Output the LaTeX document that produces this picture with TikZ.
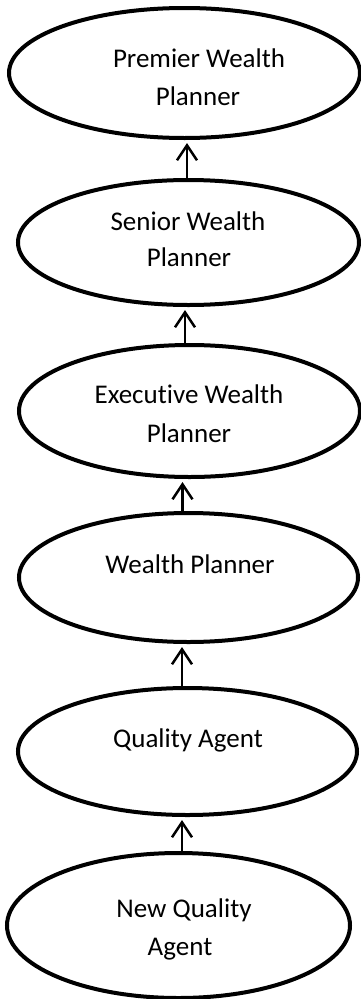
\documentclass[tikz,border=0pt]{standalone}
\usepackage{fontspec}
\setmainfont{Carlito}[Ligatures=NoCommon]
\usetikzlibrary{shapes.geometric,arrows.meta}
\begin{document}
\begin{tikzpicture}[x=1pt,y=-1pt,
  stage/.style={draw=black, line width=4pt, ellipse, inner sep=0pt, outer sep=0pt},
  lbl/.style={font=\fontsize{27}{39}\selectfont, inner sep=0pt, anchor=base},
  link/.style={line width=2.5pt, -{Straight Barb[length=15pt,width=20pt]}, shorten >=5pt}]
  \useasboundingbox (0,0) rectangle (361,999);
  \fill[white] (0,0) rectangle (361,999);

  % career stages, top to bottom
  \node[stage, minimum width=351, minimum height=130] (pre) at (184.5,73) {};
  \node[stage, minimum width=341, minimum height=125] (sen) at (188.5,242.5) {};
  \node[stage, minimum width=341, minimum height=132] (exe) at (189.5,411) {};
  \node[stage, minimum width=339, minimum height=129] (wp)  at (188.5,577.5) {};
  \node[stage, minimum width=339, minimum height=127] (qa)  at (187.5,751.5) {};
  \node[stage, minimum width=343, minimum height=145] (nqa) at (178.5,925.5) {};

  % promotion arrows
  \coordinate (s1) at ([xshift=-1.5pt]sen.north);
  \coordinate (s2) at ([xshift=-4.5pt]exe.north);
  \coordinate (s3) at ([xshift=-6pt]wp.north);
  \coordinate (s4) at ([xshift=-5.5pt]qa.north);
  \coordinate (s5) at ([xshift=3.5pt]nqa.north);
  \draw[link] (s1) -- (s1 |- pre.south);
  \draw[link] (s2) -- (s2 |- sen.south);
  \draw[link] (s3) -- (s3 |- exe.south);
  \draw[link] (s4) -- (s4 |- wp.south);
  \draw[link] (s5) -- (s5 |- qa.south);

  % labels
  \node[lbl] (pre1) at (199,67)  {Premier Wealth};
  \node[lbl] (pre2) at (198,105) {Planner};
  \node[lbl] (sen1) at (188,230) {Senior Wealth};
  \node[lbl] (sen2) at (189,266) {Planner};
  \node[lbl] (exe1) at (189,403) {Executive Wealth};
  \node[lbl] (exe2) at (189,442) {Planner};
  \node[lbl] (wp1)  at (190,573) {Wealth Planner};
  \node[lbl] (qa1)  at (188,747) {Quality Agent};
  \node[lbl] (nqa1) at (184,917) {New Quality};
  \node[lbl] (nqa2) at (180,955) {Agent};
\end{tikzpicture}
\end{document}
